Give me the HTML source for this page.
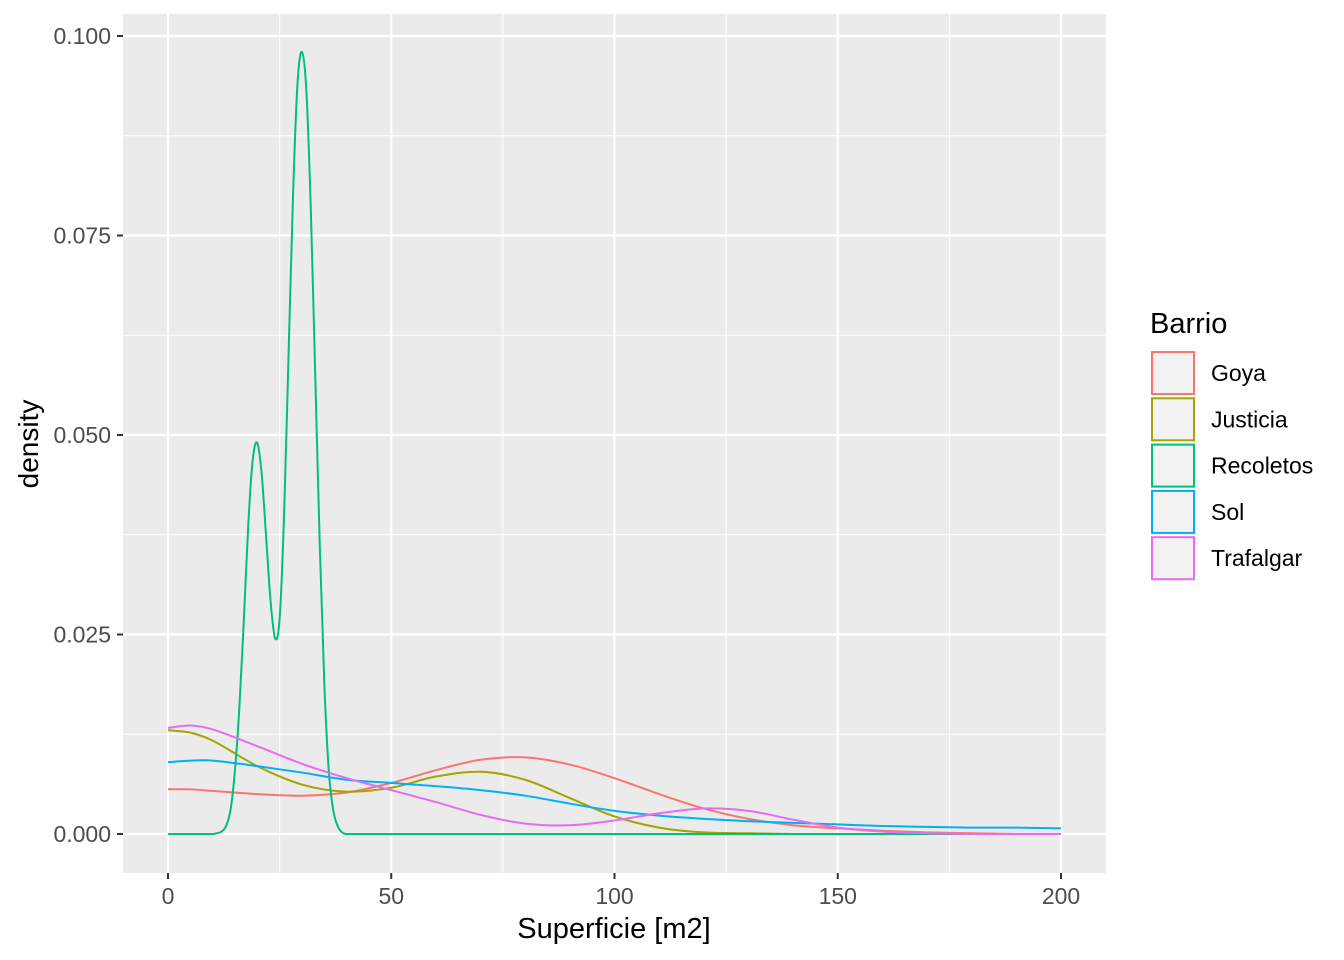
<!DOCTYPE html>
<html><head><meta charset="utf-8"><style>
body{margin:0;background:#fff;}
svg{display:block;font-family:"Liberation Sans",Arial,sans-serif;}
</style></head><body>
<svg id="chart" width="1344" height="960" xmlns="http://www.w3.org/2000/svg">
<rect x="123" y="14" width="983" height="859" fill="#EBEBEB"/>
<g id="grid"></g>
<g id="series"></g>
<g id="axes"></g>
<text x="614" y="938" text-anchor="middle" font-size="29" fill="#000">Superficie [m2]</text>
<text transform="translate(38,444) rotate(-90)" text-anchor="middle" font-size="28" fill="#000">density</text>
<g id="legend">
<text x="1150" y="333" font-size="29" fill="#000">Barrio</text>
</g>
</svg>
<script>
const names=["Goya","Justicia","Recoletos","Sol","Trafalgar"];
const colors=["#F8766D","#A3A500","#00BF7D","#00B0F6","#E76BF3"];
const xStd=[0,5,10,20,30,40,50,60,70,80,90,100,110,120,130,140,150,160,170,180,190,200];
const goya=[0.0056,0.0056,0.0054,0.0050,0.0048,0.0052,0.0064,0.0080,0.0093,0.0096,0.0087,0.0070,0.0050,0.0032,0.0019,0.0011,0.0007,0.0004,0.0002,0.0001,0,0];
const justicia=[0.0130,0.0127,0.0117,0.0085,0.0062,0.0053,0.0058,0.0072,0.0078,0.0068,0.0045,0.0022,0.0008,0.0002,0.0001,0,0,0,0,0,0,0];
const sol=[0.0090,0.0092,0.0092,0.0085,0.0077,0.0068,0.0064,0.0060,0.0055,0.0048,0.0038,0.0029,0.0023,0.0019,0.0016,0.0014,0.0012,0.0010,0.0009,0.0008,0.0008,0.0007];
const trafalgar=[0.0133,0.0136,0.0131,0.0110,0.0088,0.0070,0.0055,0.0040,0.0024,0.0013,0.0011,0.0017,0.0026,0.0032,0.0029,0.0018,0.0008,0.0003,0.0001,0,0,0];
const xRec=[0,10,11,12,13,14,15,16,17,18,19,20,21,22,23,24,25,26,27,28,29,30,31,32,33,34,35,36,37,38,39,40,50,100,150,200];
const recoletos=[0,0,0.0001,0.0003,0.001,0.003,0.008,0.016,0.027,0.039,0.047,0.049,0.045,0.037,0.029,0.0245,0.027,0.040,0.060,0.080,0.094,0.098,0.093,0.078,0.057,0.036,0.019,0.008,0.003,0.001,0.0002,0,0,0,0,0];
const xTicks=[0,50,100,150,200];
const yTicks=[0,0.025,0.05,0.075,0.1];
const yTickLabels=["0.000","0.025","0.050","0.075","0.100"];
const NS="http://www.w3.org/2000/svg";
const X=v=>168+v*(1061-168)/200;
const Y=v=>834-v*(834-36)/0.1;
function mk(t,a,p){const e=document.createElementNS(NS,t);for(const k in a)e.setAttribute(k,a[k]);p.appendChild(e);return e;}
const grid=document.getElementById('grid'),axes=document.getElementById('axes'),ser=document.getElementById('series'),leg=document.getElementById('legend');
for(let i=0;i<xTicks.length-1;i++){const m=(xTicks[i]+xTicks[i+1])/2;
const l=mk('line',{x1:X(m),x2:X(m),y1:14,y2:873,stroke:'#fff','stroke-width':1},grid);
}
for(let i=0;i<yTicks.length-1;i++){const m=(yTicks[i]+yTicks[i+1])/2;
const l=mk('line',{x1:123,x2:1106,y1:Y(m),y2:Y(m),stroke:'#fff','stroke-width':1},grid);
}
xTicks.forEach(v=>{const l=mk('line',{x1:X(v),x2:X(v),y1:14,y2:873,stroke:'#fff','stroke-width':2.2},grid);

const t=mk('line',{x1:X(v),x2:X(v),y1:873,y2:879,stroke:'#333','stroke-width':2},axes);

const tx=mk('text',{x:X(v),y:904,'text-anchor':'middle','font-size':23,fill:'#4D4D4D'},axes);tx.textContent=v;
});
yTicks.forEach((v,i)=>{const l=mk('line',{x1:123,x2:1106,y1:Y(v),y2:Y(v),stroke:'#fff','stroke-width':2.2},grid);

const t=mk('line',{x1:117,x2:123,y1:Y(v),y2:Y(v),stroke:'#333','stroke-width':2},axes);

const tx=mk('text',{x:111,y:Y(v)+8,'text-anchor':'end','font-size':23,fill:'#4D4D4D'},axes);tx.textContent=yTickLabels[i];
});
function pathFor(xs,ys){const p=xs.map((x,i)=>[X(x),Y(ys[i])]);let d='M'+p[0][0]+','+p[0][1];
for(let i=0;i<p.length-1;i++){const p0=p[Math.max(0,i-1)],p1=p[i],p2=p[i+1],p3=p[Math.min(p.length-1,i+2)];
const h=p2[0]-p1[0];
let m1=(p2[1]-p0[1])/((p2[0]-p0[0])||1),m2=(p3[1]-p1[1])/((p3[0]-p1[0])||1);
let c1y=p1[1]+m1*h/3,c2y=p2[1]-m2*h/3;
if(ys[i]===0&&ys[i+1]===0){c1y=p1[1];c2y=p2[1];}
c1y=Math.min(c1y,834);c2y=Math.min(c2y,834);
d+=' C'+(p1[0]+h/3)+','+c1y+' '+(p2[0]-h/3)+','+c2y+' '+p2[0]+','+p2[1];}
return d;}
const data=[[xStd,goya],[xStd,justicia],[xRec,recoletos],[xStd,sol],[xStd,trafalgar]];
data.forEach((s,i)=>{const p=mk('path',{d:pathFor(s[0],s[1]),fill:'none',stroke:colors[i],'stroke-width':2},ser);

const y=352+i*46.3;
const r=mk('rect',{x:1152,y:y,width:42,height:42,fill:'#F2F2F2',stroke:colors[i],'stroke-width':2},leg);

const t=mk('text',{x:1211,y:y+29,'font-size':23,fill:'#000'},leg);t.textContent=names[i];
});
</script>
</body></html>
